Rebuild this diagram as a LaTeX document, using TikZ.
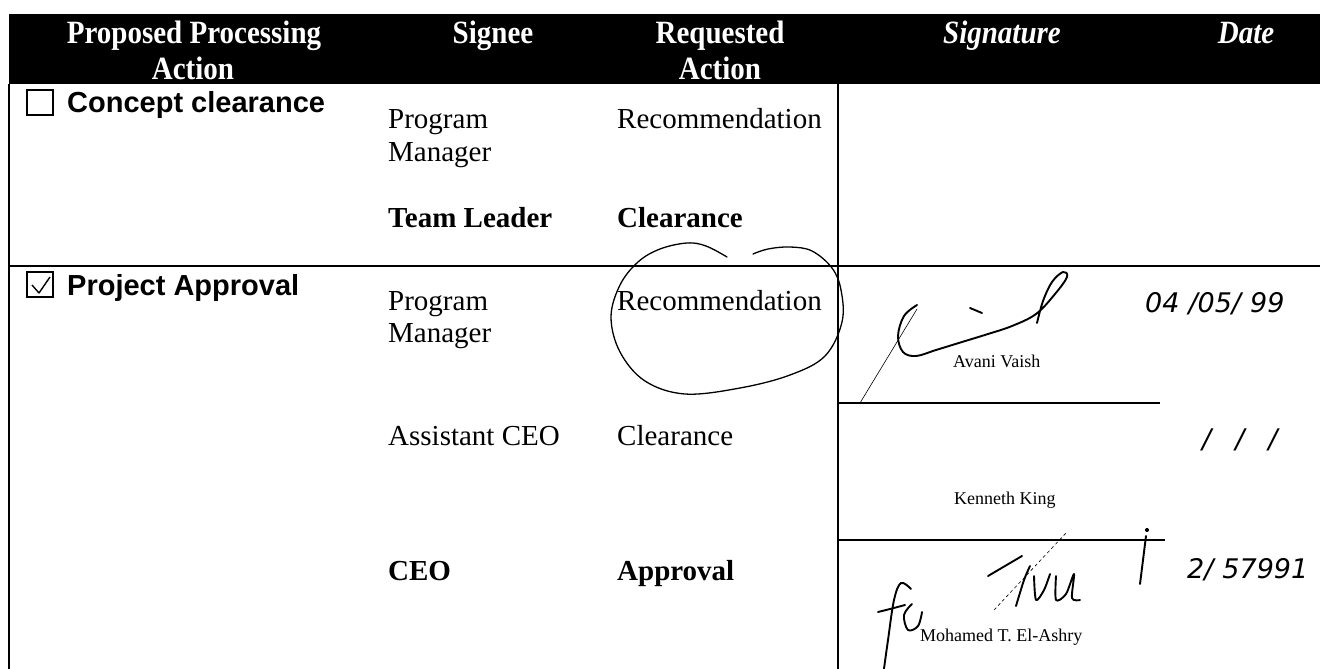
\documentclass[tikz,border=0pt]{standalone}
\usepackage{fontspec}
\usepackage{graphicx}
\setmainfont{Liberation Serif}
\newfontfamily\arialf{Liberation Sans}
\newfontfamily\handf{DejaVu Sans}
\newcommand{\tallhdr}[1]{\scalebox{1}[1.12]{#1}}
\begin{document}
\begin{tikzpicture}[x=1pt,y=-1pt,
  txt/.style={anchor=base west,inner sep=0pt,font=\fontsize{29}{33}\selectfont},
  btxt/.style={txt,font=\fontsize{29}{33}\selectfont\bfseries},
  hdr/.style={anchor=base,inner sep=0pt,text=white,font=\fontsize{29}{31}\selectfont\bfseries},
  ihdr/.style={hdr,font=\fontsize{29}{31}\selectfont\bfseries\itshape},
  act/.style={anchor=base west,inner sep=0pt,font=\fontsize{29}{33}\selectfont\arialf\bfseries},
  nm/.style={anchor=base west,inner sep=0pt,font=\fontsize{18}{20}\selectfont},
  hand/.style={anchor=base west,inner sep=0pt,font=\fontsize{27}{28}\selectfont\handf\itshape},
  rule/.style={line width=1.8pt},
  sigline/.style={line width=1.5pt},
  ink/.style={line width=1.9pt,line cap=round,line join=round},
  thinink/.style={line width=0.6pt,line cap=round}
]
\useasboundingbox (0,0) rectangle (1320,669);
% header band
\fill[black] (9,14) rectangle (1320,84);
\node[hdr] (h1a) at (194,44) {\tallhdr{Proposed Processing}};
\node[hdr] (h1b) at (193,79) {\tallhdr{Action}};
\node[hdr] (h2) at (493,44) {\tallhdr{Signee}};
\node[hdr] (h3a) at (720,44) {\tallhdr{Requested}};
\node[hdr] (h3b) at (720,79) {\tallhdr{Action}};
\node[ihdr] (h4) at (1002,44) {\tallhdr{Signature}};
\node[ihdr] (h5) at (1246,44) {\tallhdr{Date}};
% table rules
\draw[rule] (9,84) -- (9,669);
\draw[rule] (838,84) -- (838,669);
\draw[rule] (9,266) -- (1320,266);
\draw[sigline] (838,403) -- (1160,403);
\draw[sigline] (838,540) -- (1165,540);
% check boxes
\draw[line width=1.2pt] (27,90) rectangle (53,115);
\draw[line width=1.2pt] (27,272) rectangle (53,297);
\draw[line width=1.4pt,line join=round] (32,285) -- (39,293) -- (50,277);
% first group
\node[act] (cc) at (67,112) {Concept clearance};
\node[txt] (pm1a) at (388,128) {Program};
\node[txt] (pm1b) at (388,161) {Manager};
\node[btxt] (tl) at (388,227) {Team Leader};
\node[txt] (rec1) at (617,128) {Recommendation};
\node[btxt] (clr1) at (617,227) {Clearance};
% second group
\node[act] (pa) at (67,295) {Project Approval};
\node[txt] (pm2a) at (388,310) {Program};
\node[txt] (pm2b) at (388,342) {Manager};
\node[txt] (rec2) at (617,310) {Recommendation};
\node[txt] (ac) at (388,445) {Assistant CEO};
\node[txt] (clr2) at (617,445) {Clearance};
\node[btxt] (ceo) at (388,580) {CEO};
\node[btxt] (appr) at (617,580) {Approval};
% names
\node[nm] (n1) at (953,367) {Avani Vaish};
\node[nm] (n2) at (954,504) {Kenneth King};
\node[nm] (n3) at (920,641) {Mohamed T. El-Ashry};
% handwritten dates
\node[hand] (d1) at (1145,312) {04\,\,/05/\,\,99};
\node[hand] (d2) at (1202,448) {/\hspace{24pt}/\hspace{24pt}/};
\node[hand] (d3) at (1187,578) {2/\,\,57991};
% hand-drawn circle round Recommendation
\draw[line width=1.3pt,line cap=round] plot[smooth,tension=0.6] coordinates {
 (727,257) (706,246) (687,243) (660,249) (638,262) (620,285) (611,317)
 (620,352) (645,381) (685,394) (740,388) (790,375) (825,356) (842,322)
 (841,290) (832,268) (812,251) (790,247) (768,249) (753,254)};
% signature Avani Vaish
\draw[thinink] (860,403) -- (917,309);
\draw[ink] plot[smooth,tension=0.6] coordinates {
 (917,305) (904,316) (898,336) (903,352) (916,356) (936,350) (962,342)
 (988,334) (1012,326) (1036,314) (1055,294) (1067,277) (1063,272)
 (1052,282) (1043,301) (1037,323)};
\draw[ink] (970,308) -- (982,313);
% signature Mohamed T. El-Ashry
\draw[ink] (988,576) -- (1022,556);
\draw[thinink,dashed] (994,610) -- (1066,533);
\draw[ink] plot[smooth,tension=0.5] coordinates {(1016,606) (1024,580) (1030,566)};
\draw[ink] plot[smooth,tension=0.5] coordinates {(1034,576) (1036,600) (1044,590) (1050,574)};
\draw[ink] plot[smooth,tension=0.5] coordinates {(1056,576) (1056,600) (1066,594) (1074,574) (1072,598) (1080,600)};
\draw[ink] (1146,536) -- (1140,584);
\draw[ink] (1147,530) circle (1.2pt);
\draw[ink] plot[smooth,tension=0.6] coordinates {(883,676) (888,640) (894,600) (901,583) (911,589)};
\draw[ink] plot[smooth,tension=0.6] coordinates {(878,612) (890,609) (905,605)};
\draw[ink] plot[smooth,tension=0.6] coordinates {(912,604) (904,615) (908,630) (918,626) (922,612)};
\end{tikzpicture}
\end{document}
